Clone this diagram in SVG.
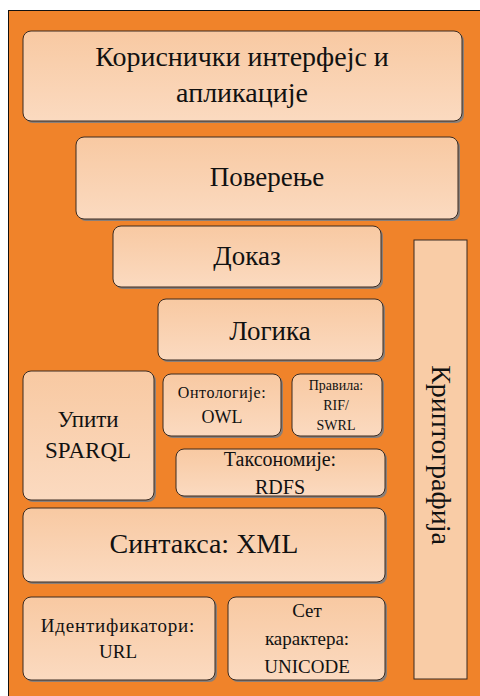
<svg xmlns="http://www.w3.org/2000/svg" width="480" height="696" viewBox="0 0 480 696">
  <defs>
    <linearGradient id="boxFill" x1="0" y1="0" x2="0" y2="1">
      <stop offset="0" stop-color="#f8c9a2"/>
      <stop offset="1" stop-color="#fbdac0"/>
    </linearGradient>
  </defs>

  <rect x="0" y="0" width="480" height="696" fill="#ffffff"/>
  <rect x="8.5" y="10.5" width="475" height="690" fill="#f0832a" stroke="#111" stroke-width="1"/>

  <!-- layer boxes: drop shadow first, then the box -->
  <g id="ui">
    <rect x="25" y="33" width="439" height="90" rx="8" fill="#8a7f78"/>
    <rect x="23" y="31" width="439" height="90" rx="8" fill="url(#boxFill)" stroke="#3a2a20"/>
    <text x="242" y="66" style="font-family: 'Liberation Serif', serif; font-size: 28px; text-anchor: middle; fill: #111">Кориснички интерфејс и</text>
    <text x="242" y="102" style="font-family: 'Liberation Serif', serif; font-size: 28px; text-anchor: middle; fill: #111">апликације</text>
  </g>

  <g id="trust">
    <rect x="78" y="139" width="382" height="82" rx="8" fill="#8a7f78"/>
    <rect x="76" y="137" width="382" height="82" rx="8" fill="url(#boxFill)" stroke="#3a2a20"/>
    <text x="267" y="186" style="font-family: 'Liberation Serif', serif; font-size: 27px; text-anchor: middle; fill: #111">Поверење</text>
  </g>

  <g id="proof">
    <rect x="115" y="228" width="268" height="61" rx="8" fill="#8a7f78"/>
    <rect x="113" y="226" width="268" height="61" rx="8" fill="url(#boxFill)" stroke="#3a2a20"/>
    <text x="247" y="265" style="font-family: 'Liberation Serif', serif; font-size: 27px; text-anchor: middle; fill: #111">Доказ</text>
  </g>

  <g id="logic">
    <rect x="160" y="301" width="225" height="61" rx="8" fill="#8a7f78"/>
    <rect x="158" y="299" width="225" height="61" rx="8" fill="url(#boxFill)" stroke="#3a2a20"/>
    <text x="270" y="340" style="font-family: 'Liberation Serif', serif; font-size: 27px; text-anchor: middle; fill: #111">Логика</text>
  </g>

  <g id="sparql">
    <rect x="25" y="373" width="131" height="129" rx="8" fill="#8a7f78"/>
    <rect x="23" y="371" width="131" height="129" rx="8" fill="url(#boxFill)" stroke="#3a2a20"/>
    <text x="88" y="427" style="font-family: 'Liberation Serif', serif; font-size: 23px; text-anchor: middle; fill: #111">Упити</text>
    <text x="88" y="458" style="font-family: 'Liberation Serif', serif; font-size: 23px; text-anchor: middle; fill: #111">SPARQL</text>
  </g>

  <g id="owl">
    <rect x="165" y="376" width="118" height="62" rx="8" fill="#8a7f78"/>
    <rect x="163" y="374" width="118" height="62" rx="8" fill="url(#boxFill)" stroke="#3a2a20"/>
    <text x="222" y="398" style="font-family: 'Liberation Serif', serif; font-size: 16px; letter-spacing: 0.6px; text-anchor: middle; fill: #111">Онтологије:</text>
    <text x="222" y="423" style="font-family: 'Liberation Serif', serif; font-size: 18px; text-anchor: middle; fill: #111">OWL</text>
  </g>

  <g id="rules">
    <rect x="294" y="376" width="90" height="62" rx="8" fill="#8a7f78"/>
    <rect x="292" y="374" width="90" height="62" rx="8" fill="url(#boxFill)" stroke="#3a2a20"/>
    <text x="336" y="390" style="font-family: 'Liberation Serif', serif; font-size: 14px; text-anchor: middle; fill: #111">Правила:</text>
    <text x="336" y="410" style="font-family: 'Liberation Serif', serif; font-size: 14px; text-anchor: middle; fill: #111">RIF/</text>
    <text x="336" y="430" style="font-family: 'Liberation Serif', serif; font-size: 14px; text-anchor: middle; fill: #111">SWRL</text>
  </g>

  <g id="rdfs">
    <rect x="178" y="451" width="209" height="47" rx="8" fill="#8a7f78"/>
    <rect x="176" y="449" width="209" height="47" rx="8" fill="url(#boxFill)" stroke="#3a2a20"/>
    <text x="280" y="466" style="font-family: 'Liberation Serif', serif; font-size: 20px; text-anchor: middle; fill: #111">Таксономије:</text>
    <text x="280" y="494" style="font-family: 'Liberation Serif', serif; font-size: 20px; text-anchor: middle; fill: #111">RDFS</text>
  </g>

  <g id="xml">
    <rect x="25" y="510" width="362" height="74" rx="8" fill="#8a7f78"/>
    <rect x="23" y="508" width="362" height="74" rx="8" fill="url(#boxFill)" stroke="#3a2a20"/>
    <text x="204" y="553" style="font-family: 'Liberation Serif', serif; font-size: 28px; text-anchor: middle; fill: #111">Синтакса: XML</text>
  </g>

  <g id="url">
    <rect x="25" y="599" width="192" height="83" rx="8" fill="#8a7f78"/>
    <rect x="23" y="597" width="192" height="83" rx="8" fill="url(#boxFill)" stroke="#3a2a20"/>
    <text x="118" y="632" style="font-family: 'Liberation Serif', serif; font-size: 19px; letter-spacing: 0.8px; text-anchor: middle; fill: #111">Идентификатори:</text>
    <text x="118" y="658" style="font-family: 'Liberation Serif', serif; font-size: 19px; text-anchor: middle; fill: #111">URL</text>
  </g>

  <g id="unicode">
    <rect x="230" y="599" width="157" height="83" rx="8" fill="#8a7f78"/>
    <rect x="228" y="597" width="157" height="83" rx="8" fill="url(#boxFill)" stroke="#3a2a20"/>
    <text x="307" y="617" style="font-family: 'Liberation Serif', serif; font-size: 19px; text-anchor: middle; fill: #111">Сет</text>
    <text x="307" y="645" style="font-family: 'Liberation Serif', serif; font-size: 19px; text-anchor: middle; fill: #111">карактера:</text>
    <text x="307" y="673" style="font-family: 'Liberation Serif', serif; font-size: 19px; text-anchor: middle; fill: #111">UNICODE</text>
  </g>

  <g id="crypto">
    <rect x="414" y="240" width="53" height="439" fill="#f9cca6" stroke="#3a2a20"/>
    <text transform="translate(432 455) rotate(90)" style="font-family: 'Liberation Serif', serif; font-size: 28px; text-anchor: middle; fill: #111">Криптографија</text>
  </g>

  <g id="connectors"/>
</svg>
